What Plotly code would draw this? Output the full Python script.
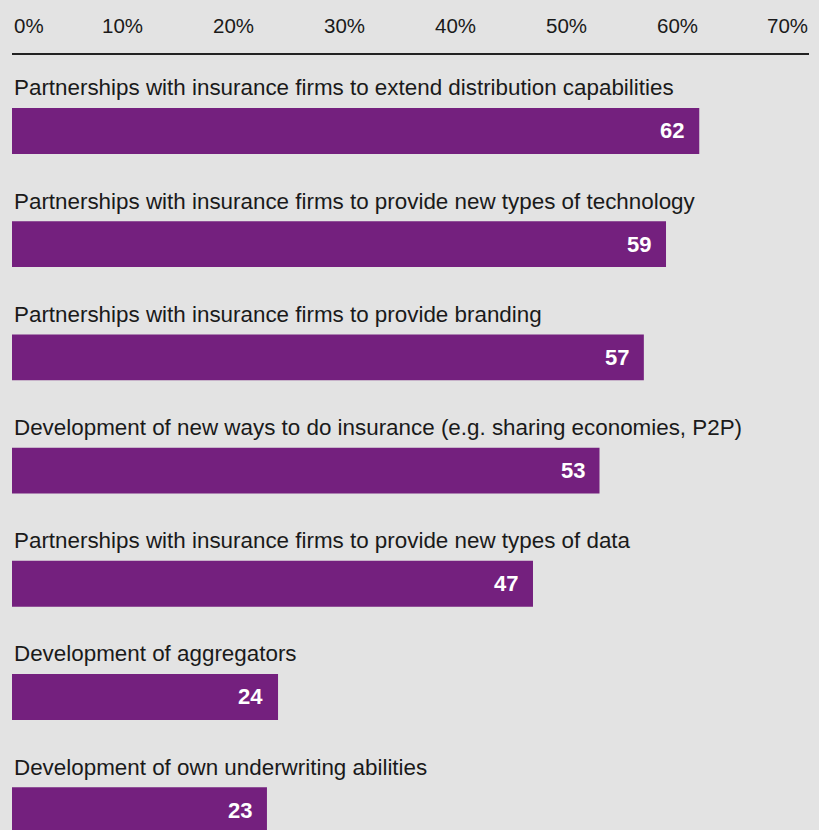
import plotly.graph_objects as go

# Survey results: share of respondents (%) per strategy
categories = [
    "Partnerships with insurance firms to extend distribution capabilities",
    "Partnerships with insurance firms to provide new types of technology",
    "Partnerships with insurance firms to provide branding",
    "Development of new ways to do insurance (e.g. sharing economies, P2P)",
    "Partnerships with insurance firms to provide new types of data",
    "Development of aggregators",
    "Development of own underwriting abilities",
]
values = [62, 59, 57, 53, 47, 24, 23]
tick_values = [0, 10, 20, 30, 40, 50, 60, 70]
tick_labels = ["0%", "10%", "20%", "30%", "40%", "50%", "60%", "70%"]

BG = "#e3e3e3"
PURPLE = "#74207e"
TEXT = "#1a1a1a"
FONT = "Liberation Sans, Arial, sans-serif"

positions = list(range(len(categories)))

fig = go.Figure(
    go.Bar(
        x=values,
        y=positions,
        orientation="h",
        width=0.405,
        marker=dict(color=PURPLE, line=dict(width=0)),
        hoverinfo="skip",
    )
)

annotations = []
# category captions above each bar
for pos, cat in zip(positions, categories):
    annotations.append(dict(
        x=0, y=pos - 0.38, xref="x", yref="y",
        text=cat, showarrow=False, xanchor="left", yanchor="middle",
        xshift=0, font=dict(family=FONT, size=22.4, color=TEXT),
    ))
# value labels at the inner end of each bar
for pos, val in zip(positions, values):
    annotations.append(dict(
        x=val, y=pos, xref="x", yref="y",
        text=f"<b>{val}</b>", showarrow=False, xanchor="right", yanchor="middle",
        xshift=-13, font=dict(family=FONT, size=22, color="white"),
    ))
# percentage scale along the top
for tv, tl in zip(tick_values, tick_labels):
    annotations.append(dict(
        x=tv, y=1, xref="x", yref="paper",
        text=tl, showarrow=False,
        xanchor="left" if tv == 0 else "center", yanchor="middle",
        yshift=30, font=dict(family=FONT, size=20.5, color=TEXT),
    ))

fig.update_layout(
    width=819, height=830, autosize=False,
    margin=dict(l=12, r=10, t=55, b=0),
    paper_bgcolor=BG, plot_bgcolor=BG,
    showlegend=False,
    annotations=annotations,
    xaxis=dict(
        range=[0, 71.9], side="top", showgrid=False, zeroline=False,
        showticklabels=False, ticks="", showline=True,
        linecolor="#222222", linewidth=1.5, fixedrange=True,
    ),
    yaxis=dict(
        range=[6.175, -0.671], showgrid=False, zeroline=False,
        showticklabels=False, ticks="", showline=False, fixedrange=True,
    ),
)

fig.write_html("out.html")
